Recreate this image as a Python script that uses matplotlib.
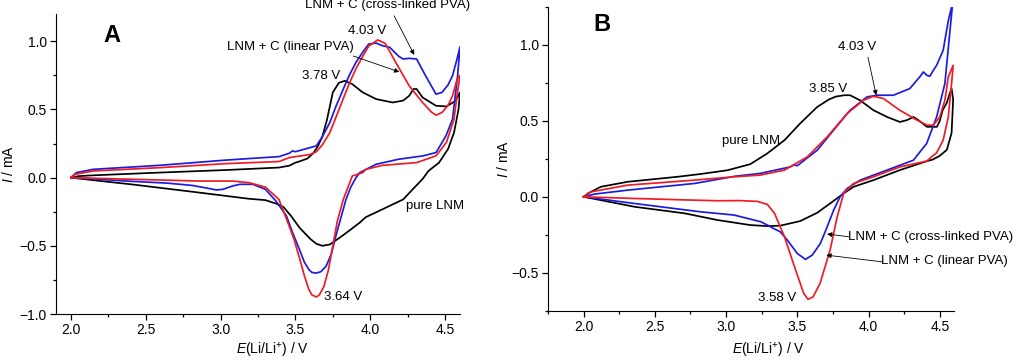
import matplotlib
matplotlib.use('Agg')
import matplotlib.pyplot as plt
from matplotlib.ticker import MultipleLocator

plt.rcParams['font.family'] = ['Liberation Sans', 'DejaVu Sans']
plt.rcParams['mathtext.fontset'] = 'custom'
plt.rcParams['mathtext.rm'] = 'Liberation Sans'
plt.rcParams['mathtext.it'] = 'Liberation Sans:italic'

# ---- panel A: CV loops (anodic sweep then cathodic sweep) ----
a_black_v = [2.00, 2.05, 2.15, 2.59, 3.04, 3.39, 3.46, 3.50, 3.53, 3.58, 3.62, 3.65, 3.68, 3.71, 3.75,
             3.79, 3.83, 3.88, 3.95, 4.04, 4.15, 4.22, 4.26, 4.29, 4.31, 4.35, 4.44, 4.51, 4.57, 4.60,
             4.59, 4.56, 4.52, 4.46, 4.39, 4.35, 4.28, 4.22, 4.08, 3.97, 3.93, 3.84, 3.79, 3.73, 3.68,
             3.64, 3.60, 3.53, 3.47, 3.42, 3.37, 3.30, 3.19, 2.86, 2.41, 2.20, 2.00]
a_black_i = [0.00, 0.011, 0.017, 0.037, 0.056, 0.074, 0.088, 0.11, 0.12, 0.14, 0.18, 0.23, 0.30, 0.42, 0.625,
             0.695, 0.71, 0.686, 0.625, 0.576, 0.551, 0.565, 0.60, 0.65, 0.65, 0.588, 0.527, 0.522, 0.563, 0.625,
             0.50, 0.33, 0.21, 0.11, 0.05, -0.01, -0.09, -0.16, -0.233, -0.29, -0.33, -0.405, -0.445, -0.49, -0.50,
             -0.485, -0.45, -0.37, -0.28, -0.215, -0.19, -0.165, -0.155, -0.11, -0.05, -0.025, 0.0]

a_red_v = [2.00, 2.025, 2.15, 2.59, 3.04, 3.39, 3.46, 3.60, 3.64, 3.68, 3.73, 3.77, 3.82, 3.86, 3.905,
           3.95, 3.99, 4.05, 4.10, 4.17, 4.26, 4.35, 4.41, 4.44, 4.48, 4.52, 4.55, 4.58, 4.60,
           4.58, 4.56, 4.51, 4.44, 4.31, 4.08, 3.97, 3.95, 3.88, 3.82, 3.78, 3.75, 3.72, 3.69, 3.66,
           3.64, 3.61, 3.59, 3.56, 3.53, 3.49, 3.45, 3.39, 3.30, 3.19, 3.08, 2.86, 2.41, 2.00]
a_red_i = [0.0, 0.024, 0.049, 0.073, 0.103, 0.118, 0.147, 0.17, 0.19, 0.24, 0.33, 0.44, 0.58, 0.69, 0.80,
           0.89, 0.965, 1.01, 0.985, 0.846, 0.674, 0.551, 0.48, 0.458, 0.478, 0.53, 0.60, 0.72, 0.75,
           0.60, 0.43, 0.26, 0.16, 0.11, 0.09, 0.06, 0.037, 0.012, -0.16, -0.32, -0.50, -0.68, -0.80, -0.86,
           -0.875, -0.86, -0.82, -0.72, -0.60, -0.45, -0.33, -0.16, -0.07, -0.037, -0.025, -0.025, -0.012, 0.0]

a_blue_v = [2.00, 2.036, 2.15, 2.59, 3.04, 3.39, 3.46, 3.48, 3.50, 3.64, 3.68, 3.73, 3.77, 3.82, 3.86,
            3.905, 3.95, 3.99, 4.04, 4.08, 4.13, 4.19, 4.22, 4.26, 4.31, 4.37, 4.44, 4.48, 4.52, 4.55,
            4.58, 4.60,
            4.584, 4.55, 4.506, 4.44, 4.35, 4.19, 4.04, 3.93, 3.905, 3.87, 3.838, 3.80, 3.77, 3.74, 3.705,
            3.67, 3.64, 3.61, 3.59, 3.56, 3.527, 3.48, 3.44, 3.37, 3.30, 3.215, 3.13, 3.08, 3.015, 2.97,
            2.90, 2.81, 2.64, 2.37, 2.19, 2.00]
a_blue_i = [0.0, 0.037, 0.061, 0.09, 0.129, 0.154, 0.179, 0.196, 0.19, 0.233, 0.30, 0.404, 0.52, 0.65, 0.75,
            0.846, 0.92, 0.98, 0.987, 0.968, 0.956, 0.89, 0.87, 0.875, 0.87, 0.747, 0.612, 0.625, 0.68, 0.747,
            0.87, 0.96,
            0.747, 0.428, 0.306, 0.184, 0.159, 0.135, 0.098, 0.037, 0.0, -0.07, -0.16, -0.31, -0.43, -0.56, -0.65,
            -0.69, -0.70, -0.695, -0.674, -0.62, -0.527, -0.40, -0.28, -0.172, -0.086, -0.049, -0.049, -0.061, -0.086, -0.09,
            -0.075, -0.057, -0.04, -0.025, -0.012, 0.0]

# ---- panel B ----
b_black_v = [2.00, 2.03, 2.12, 2.31, 2.66, 2.82, 3.01, 3.17, 3.29, 3.41, 3.52, 3.64, 3.72, 3.77, 3.83,
             3.87, 3.94, 4.035, 4.13, 4.22, 4.27, 4.315, 4.35, 4.41, 4.48, 4.50, 4.52, 4.55, 4.57, 4.583,
             4.594, 4.583, 4.55, 4.50, 4.45, 4.41, 4.22, 4.035, 3.895, 3.825, 3.73, 3.64, 3.52, 3.45, 3.38,
             3.29, 3.17, 2.94, 2.71, 2.36, 2.00]
b_black_i = [0.0, 0.022, 0.066, 0.099, 0.132, 0.15, 0.175, 0.215, 0.286, 0.373, 0.483, 0.592, 0.64, 0.66, 0.669,
             0.669, 0.636, 0.57, 0.526, 0.493, 0.505, 0.526, 0.505, 0.461, 0.461, 0.50, 0.57, 0.62, 0.68, 0.713,
             0.64, 0.42, 0.31, 0.27, 0.245, 0.235, 0.176, 0.11, 0.066, 0.022, -0.044, -0.105, -0.16, -0.175, -0.19,
             -0.193, -0.186, -0.153, -0.109, -0.066, 0.0]

b_red_v = [2.00, 2.054, 2.31, 2.78, 3.06, 3.24, 3.41, 3.57, 3.71, 3.85, 3.965, 4.035, 4.105, 4.22, 4.34,
           4.41, 4.455, 4.50, 4.536, 4.56, 4.594,
           4.583, 4.56, 4.524, 4.478, 4.408, 4.22, 4.035, 3.895, 3.825, 3.78, 3.73, 3.66, 3.61, 3.575,
           3.545, 3.48, 3.41, 3.34, 3.29, 3.22, 3.10, 2.94, 2.70, 2.36, 2.00]
b_red_i = [0.0, 0.033, 0.077, 0.11, 0.132, 0.143, 0.176, 0.263, 0.395, 0.549, 0.636, 0.662, 0.647, 0.57, 0.505,
           0.472, 0.472, 0.526, 0.636, 0.79, 0.866,
           0.746, 0.526, 0.373, 0.29, 0.235, 0.197, 0.132, 0.088, 0.022, -0.132, -0.351, -0.57, -0.66, -0.675,
           -0.636, -0.46, -0.263, -0.109, -0.05, -0.03, -0.025, -0.026, -0.02, -0.011, 0.0]

b_blue_v = [2.00, 2.077, 2.31, 2.78, 3.06, 3.24, 3.45, 3.476, 3.50, 3.64, 3.755, 3.87, 3.99, 4.06, 4.175,
            4.29, 4.36, 4.385, 4.41, 4.43, 4.455, 4.478, 4.524, 4.56, 4.583, 4.59,
            4.57, 4.536, 4.478, 4.408, 4.315, 4.13, 3.942, 3.85, 3.80, 3.755, 3.71, 3.662, 3.605, 3.557,
            3.50, 3.43, 3.38, 3.336, 3.29, 3.243, 3.056, 2.823, 2.357, 2.00]
b_blue_i = [0.0, 0.018, 0.044, 0.088, 0.135, 0.154, 0.197, 0.21, 0.205, 0.307, 0.439, 0.57, 0.658, 0.669, 0.669,
            0.713, 0.79, 0.822, 0.80, 0.794, 0.833, 0.866, 0.965, 1.16, 1.25, 1.27,
            1.077, 0.746, 0.526, 0.351, 0.241, 0.176, 0.11, 0.055, 0.0, -0.088, -0.197, -0.307, -0.384, -0.412,
            -0.373, -0.285, -0.23, -0.21, -0.186, -0.164, -0.12, -0.099, -0.044, 0.0]

BLACK = '#000000'
RED = '#ee1c24'
BLUE = '#1c1ce0'

fig = plt.figure(figsize=(10.24, 3.6), dpi=100)
axA = fig.add_axes([56/1024, 1-314/360, 404/1024, 300/360])
axB = fig.add_axes([548/1024, 1-310.7/360, 406/1024, 303.7/360])


def style_axes(ax, xlim, ylim):
    ax.set_xlim(*xlim)
    ax.set_ylim(*ylim)
    ax.spines['top'].set_visible(False)
    ax.spines['right'].set_visible(False)
    ax.xaxis.set_major_locator(MultipleLocator(0.5))
    ax.xaxis.set_minor_locator(MultipleLocator(0.25))
    ax.yaxis.set_major_locator(MultipleLocator(0.5))
    ax.yaxis.set_minor_locator(MultipleLocator(0.25))
    ax.tick_params(which='major', direction='out', length=4.5, width=0.9, labelsize=10, pad=2)
    ax.tick_params(which='minor', direction='out', length=2.5, width=0.9)
    ax.set_xlabel('$E$(Li/Li$^{+}$) / V', fontsize=10)
    ax.set_ylabel('$I$ / mA', fontsize=10)


lw = 1.25
axA.plot(a_black_v, a_black_i, color=BLACK, lw=lw)
axA.plot(a_blue_v, a_blue_i, color=BLUE, lw=lw)
axA.plot(a_red_v, a_red_i, color=RED, lw=lw)
style_axes(axA, (1.9, 4.6), (-1.0, 1.2))
axA.xaxis.set_label_coords(0.535, -0.09)
axA.yaxis.set_label_coords(-0.10, 0.5)

axB.plot(b_black_v, b_black_i, color=BLACK, lw=lw)
axB.plot(b_blue_v, b_blue_i, color=BLUE, lw=lw)
axB.plot(b_red_v, b_red_i, color=RED, lw=lw)
style_axes(axB, (1.75, 4.6), (-0.75, 1.25))
axB.xaxis.set_label_coords(0.542, -0.10)
axB.yaxis.set_label_coords(-0.09, 0.5)

arrow = dict(arrowstyle='-|>', color='k', lw=0.6, mutation_scale=7, shrinkA=0, shrinkB=0)
fs = 9.5

# panel A labels
axA.text(0.139, 0.93, 'A', transform=axA.transAxes, fontsize=17, fontweight='bold', ha='center', va='center')
axA.text(4.114, 1.267, 'LNM + C (cross-linked PVA)', ha='center', va='center', fontsize=fs, clip_on=False)
axA.annotate('', xy=(4.294, 0.90), xytext=(4.16, 1.186), arrowprops=arrow, annotation_clip=False)
axA.text(3.466, 0.957, 'LNM + C (linear PVA)', ha='center', va='center', fontsize=fs)
axA.annotate('', xy=(4.194, 0.775), xytext=(3.887, 0.892), arrowprops=arrow)
axA.text(3.98, 1.076, '4.03 V', fontsize=fs, ha='center', va='center')
axA.text(3.674, 0.745, '3.78 V', fontsize=fs, ha='center', va='center')
axA.text(3.82, -0.873, '3.64 V', fontsize=fs, ha='center', va='center')
axA.text(4.434, -0.211, 'pure LNM', fontsize=fs, ha='center', va='center')

# panel B labels
axB.text(0.134, 0.941, 'B', transform=axB.transAxes, fontsize=17, fontweight='bold', ha='center', va='center')
axB.text(3.919, 0.985, '4.03 V', fontsize=fs, ha='center', va='center')
axB.annotate('', xy=(4.054, 0.669), xytext=(3.996, 0.919), arrowprops=arrow)
axB.text(3.715, 0.709, '3.85 V', fontsize=fs, ha='center', va='center')
axB.text(3.173, 0.366, 'pure LNM', fontsize=fs, ha='center', va='center')
axB.text(4.437, -0.263, 'LNM + C (cross-linked PVA)', fontsize=fs, ha='center', va='center', clip_on=False)
axB.annotate('', xy=(3.709, -0.245), xytext=(3.86, -0.263), arrowprops=arrow)
axB.text(4.535, -0.421, 'LNM + C (linear PVA)', fontsize=fs, ha='center', va='center', clip_on=False)
axB.annotate('', xy=(3.704, -0.384), xytext=(4.094, -0.428), arrowprops=arrow)
axB.text(3.359, -0.664, '3.58 V', fontsize=fs, ha='center', va='center')

fig.savefig('out.png', dpi=100)
